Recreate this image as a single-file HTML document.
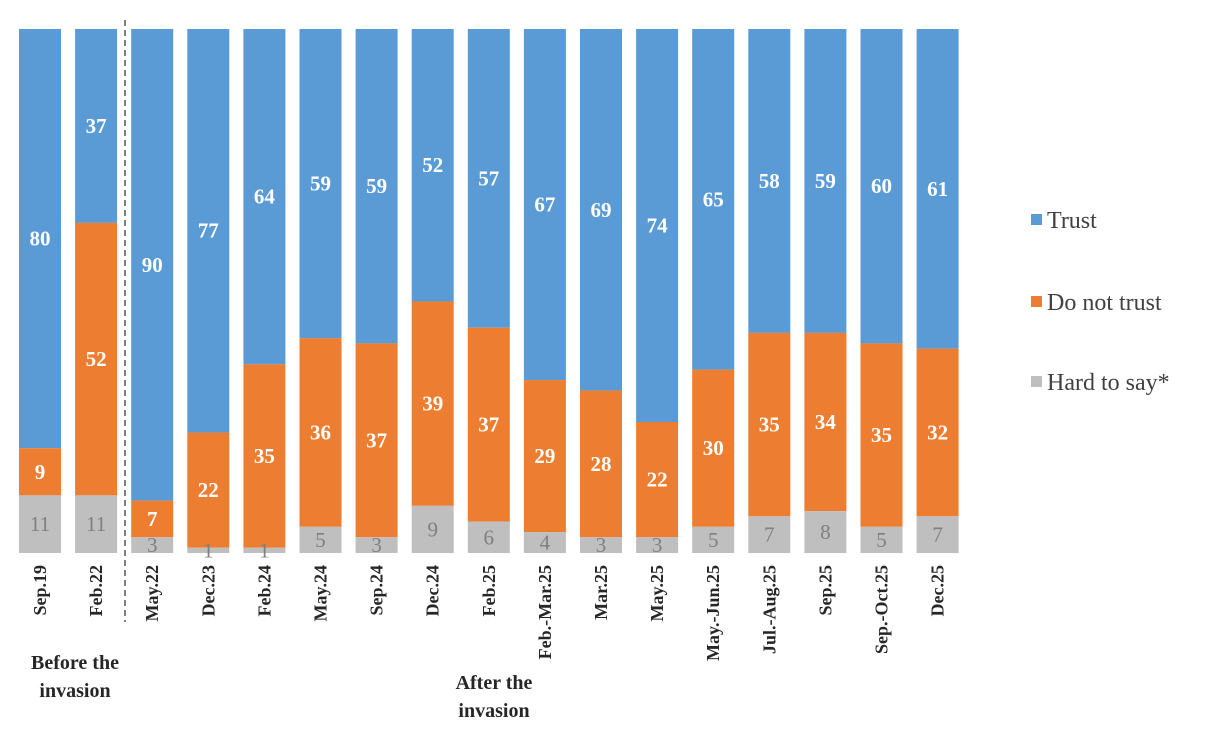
<!DOCTYPE html>
<html><head><meta charset="utf-8"><style>
html,body{margin:0;padding:0;background:#fff;}
svg{display:block;font-family:"Liberation Serif",serif;}
</style></head><body>
<svg id="c" width="1213" height="737" viewBox="0 0 1213 737" xmlns="http://www.w3.org/2000/svg"></svg>
<script>
(function(){
const d=[["Sep.19",80,9,11],["Feb.22",37,52,11],["May.22",90,7,3],["Dec.23",77,22,1],["Feb.24",64,35,1],["May.24",59,36,5],["Sep.24",59,37,3],["Dec.24",52,39,9],["Feb.25",57,37,6],["Feb.-Mar.25",67,29,4],["Mar.25",69,28,3],["May.25",74,22,3],["May.-Jun.25",65,30,5],["Jul.-Aug.25",58,35,7],["Sep.25",59,34,8],["Sep.-Oct.25",60,35,5],["Dec.25",61,32,7]];
const T=29,B=553,H=B-T,s=H/100,w=42;
let o='';
d.forEach(function(r,i){
 const x=19+i*56.1, cx=x+w/2;
 const gy=B-r[3]*s, oy=gy-r[2]*s;
 o+='<rect x="'+x+'" y="'+T+'" width="'+w+'" height="'+(oy-T)+'" fill="#5b9bd5"/>';
 o+='<rect x="'+x+'" y="'+oy+'" width="'+w+'" height="'+(gy-oy)+'" fill="#ed7d31"/>';
 o+='<rect x="'+x+'" y="'+gy+'" width="'+w+'" height="'+(B-gy)+'" fill="#bfbfbf"/>';
 o+='<text x="'+cx+'" y="'+((T+oy)/2+7)+'" fill="#fff" font-size="21" font-weight="bold" text-anchor="middle">'+r[1]+'</text>';
 o+='<text x="'+cx+'" y="'+((oy+gy)/2+7)+'" fill="#fff" font-size="21" font-weight="bold" text-anchor="middle">'+r[2]+'</text>';
 o+='<text x="'+cx+'" y="'+((gy+B)/2+7)+'" fill="#7f7f7f" font-size="21" text-anchor="middle">'+r[3]+'</text>';
 o+='<text transform="translate('+(cx+6)+',565) rotate(-90)" font-size="18" font-weight="bold" fill="#262626" text-anchor="end">'+r[0]+'</text>';
});
o+='<line x1="125" y1="20" x2="125" y2="622" stroke="#7f7f7f" stroke-width="2" stroke-dasharray="6,4"/>';
o+='<text x="75" y="669" font-size="20" font-weight="bold" fill="#262626" text-anchor="middle">Before the</text><text x="75" y="697" font-size="20" font-weight="bold" fill="#262626" text-anchor="middle">invasion</text>';
o+='<text x="494" y="689" font-size="20" font-weight="bold" fill="#262626" text-anchor="middle">After the</text><text x="494" y="717" font-size="20" font-weight="bold" fill="#262626" text-anchor="middle">invasion</text>';
[["Trust","#5b9bd5",220],["Do not trust","#ed7d31",302],["Hard to say*","#bfbfbf",382]].forEach(function(l){
 o+='<rect x="1031" y="'+(l[2]-6)+'" width="11" height="11" fill="'+l[1]+'"/><text x="1047" y="'+(l[2]+8)+'" font-size="24" fill="#404040">'+l[0]+'</text>';
});
document.getElementById('c').innerHTML=o;
})();
</script>
</body></html>
